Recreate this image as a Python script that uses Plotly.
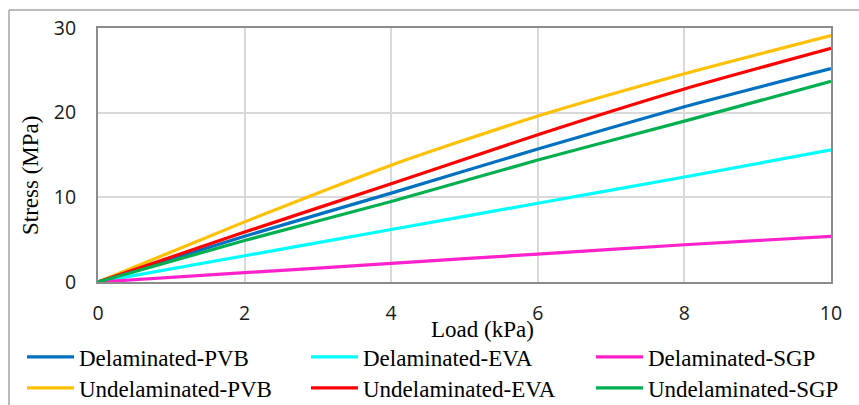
import plotly.graph_objects as go

load = [0, 2, 4, 6, 8, 10]
delam_pvb = [0, 5.4, 10.5, 15.7, 20.7, 25.2]
delam_eva = [0, 3.1, 6.2, 9.3, 12.4, 15.6]
delam_sgp = [0, 1.1, 2.2, 3.3, 4.4, 5.4]
undelam_pvb = [0, 7.1, 13.8, 19.6, 24.6, 29.1]
undelam_eva = [0, 5.9, 11.6, 17.4, 22.8, 27.6]
undelam_sgp = [0, 4.9, 9.5, 14.4, 19.0, 23.7]

x_ticks = [0, 2, 4, 6, 8, 10]
y_ticks = [0, 10, 20, 30]

# (name, values, colour, legend column, legend row)
series = [
    ("Delaminated-PVB", delam_pvb, "#0070C0", 0, 0),
    ("Delaminated-EVA", delam_eva, "#00FFFF", 1, 0),
    ("Delaminated-SGP", delam_sgp, "#FF22CC", 2, 0),
    ("Undelaminated-PVB", undelam_pvb, "#FFC000", 0, 1),
    ("Undelaminated-EVA", undelam_eva, "#FF0000", 1, 1),
    ("Undelaminated-SGP", undelam_sgp, "#00B050", 2, 1),
]

W, H = 859, 405
ml, mr, mt, mb = 98, 28, 28, 123
pw, ph = W - ml - mr, H - mt - mb

def px(xp):
    return (xp - ml) / pw

def py(yp):
    return (H - mb - yp) / ph

tickfont = dict(family="Open Sans", size=19.5, color="#1A1A1A")
serif = "Liberation Serif"

col_x = [22, 306, 591]
row_y = [357, 388]

fig = go.Figure()
legends = {}
for i, (name, vals, col, c, r) in enumerate(series):
    lg = "legend" if i == 0 else "legend%d" % (i + 1)
    fig.add_trace(go.Scatter(x=load, y=vals, mode="lines", name=name, legend=lg,
                             line=dict(color=col, width=3.2, shape="spline", smoothing=0.6)))
    legends[lg] = dict(orientation="v", x=px(col_x[c]), y=py(row_y[r]),
                       xanchor="left", yanchor="middle",
                       font=dict(family=serif, size=23, color="#000000"),
                       itemwidth=47, bgcolor="rgba(0,0,0,0)")

fig.update_layout(
    width=W, height=H,
    margin=dict(l=ml, r=mr, t=mt, b=mb, autoexpand=False),
    paper_bgcolor="white", plot_bgcolor="white",
    showlegend=True,
    xaxis=dict(range=[0, 10], tickvals=x_ticks, showgrid=True, gridcolor="#D9D9D9",
               gridwidth=1.5, showline=True, linecolor="#8C8C8C", linewidth=2, mirror=True,
               zeroline=False, tickfont=tickfont, ticks="", ticklabelstandoff=13),
    yaxis=dict(range=[0, 30], tickvals=y_ticks, showgrid=True, gridcolor="#D9D9D9",
               gridwidth=1.5, showline=True, linecolor="#8C8C8C", linewidth=2, mirror=True,
               zeroline=False, tickfont=tickfont, ticks="", ticklabelstandoff=16),
    annotations=[
        dict(text="Load (kPa)", x=px(482), y=py(329), xref="paper", yref="paper",
             showarrow=False, font=dict(family=serif, size=23, color="#000000"),
             xanchor="center", yanchor="middle"),
        dict(text="Stress (MPa)", x=px(30), y=py(176), xref="paper", yref="paper",
             showarrow=False, textangle=-90, font=dict(family=serif, size=23, color="#000000"),
             xanchor="center", yanchor="middle"),
    ],
    shapes=[
        dict(type="line", xref="paper", yref="paper", x0=px(9), x1=px(880), y0=py(10), y1=py(10),
             line=dict(color="#A6A6A6", width=1.5)),
        dict(type="line", xref="paper", yref="paper", x0=px(9), x1=px(9), y0=py(10), y1=py(430),
             line=dict(color="#A6A6A6", width=1.5)),
    ],
)
fig.update_layout(**legends)

fig.write_html("out.html")
